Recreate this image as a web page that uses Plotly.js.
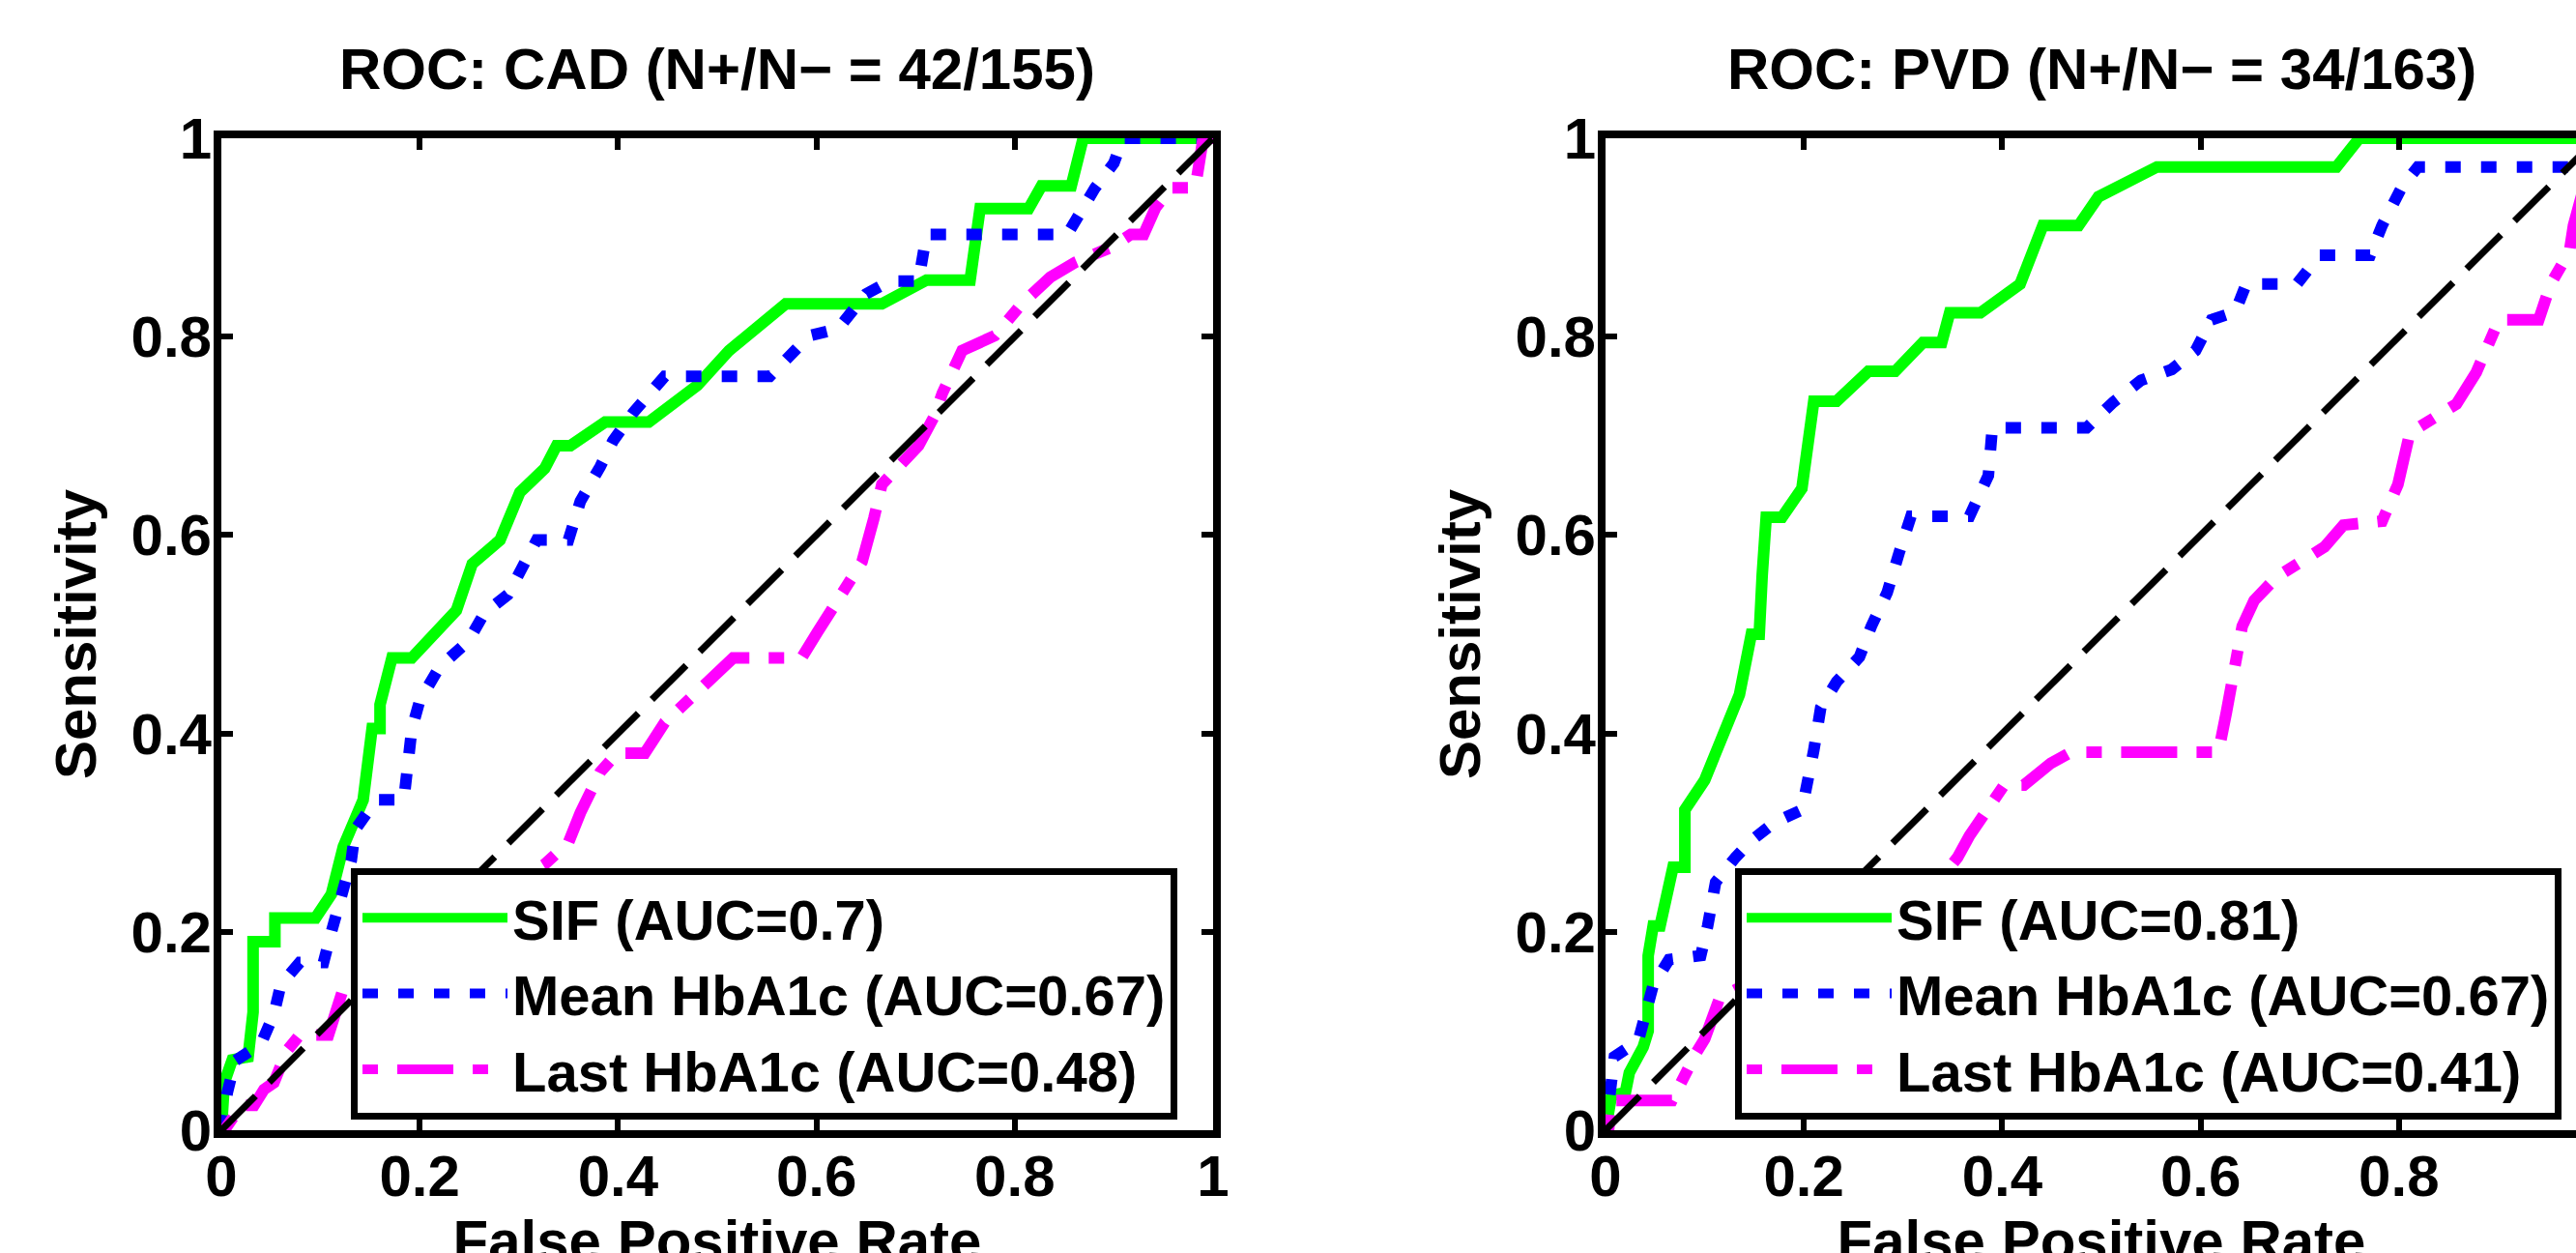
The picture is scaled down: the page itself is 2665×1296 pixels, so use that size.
<!DOCTYPE html>
<html>
<head>
<meta charset="utf-8">
<script src="https://cdn.plot.ly/plotly-3.0.1.min.js"></script>
<style>
html, body { margin: 0; padding: 0; overflow: hidden; background: #ffffff; }
#chart { width: 2760px; height: 1350px; }
</style>
</head>
<body>
<div id="chart"></div>
<script>
// ---------------- DATA ----------------
const seriesNames = ["SIF", "Mean HbA1c", "Last HbA1c"];
const cadAUC = ["0.7", "0.67", "0.48"];
const pvdAUC = ["0.81", "0.67", "0.41"];
const cadCounts = "42/155";
const pvdCounts = "34/163";
const tickVals = [0, 0.2, 0.4, 0.6, 0.8, 1];
const tickText = ["0", "0.2", "0.4", "0.6", "0.8", "1"];
const diagX = [0, 1];
const diagY = [0, 1];

// CAD panel
const cadSifFpr = [0, 0.003, 0.011, 0.027, 0.032, 0.032, 0.054, 0.054, 0.095, 0.111, 0.123, 0.143, 0.152, 0.16, 0.16, 0.172, 0.192, 0.216, 0.237, 0.253, 0.281, 0.301, 0.326, 0.338, 0.352, 0.387, 0.431, 0.48, 0.512, 0.569, 0.666, 0.711, 0.755, 0.765, 0.814, 0.827, 0.857, 0.869, 1];
const cadSifTpr = [0, 0.048, 0.071, 0.074, 0.119, 0.19, 0.19, 0.214, 0.214, 0.238, 0.286, 0.333, 0.405, 0.405, 0.429, 0.476, 0.476, 0.5, 0.524, 0.571, 0.595, 0.643, 0.667, 0.69, 0.69, 0.714, 0.714, 0.751, 0.786, 0.833, 0.833, 0.857, 0.857, 0.929, 0.929, 0.952, 0.952, 1, 1];

const cadMeanFpr = [0, 0.002, 0.006, 0.014, 0.04, 0.053, 0.06, 0.079, 0.103, 0.111, 0.115, 0.131, 0.135, 0.156, 0.184, 0.192, 0.2, 0.22, 0.249, 0.265, 0.289, 0.306, 0.318, 0.35, 0.362, 0.382, 0.395, 0.415, 0.447, 0.553, 0.573, 0.593, 0.622, 0.65, 0.674, 0.703, 0.711, 0.853, 0.881, 0.9, 0.909, 1];
const cadMeanTpr = [0, 0.015, 0.038, 0.07, 0.087, 0.117, 0.147, 0.169, 0.169, 0.2, 0.216, 0.272, 0.303, 0.333, 0.333, 0.404, 0.433, 0.467, 0.493, 0.521, 0.54, 0.573, 0.595, 0.595, 0.634, 0.669, 0.695, 0.723, 0.76, 0.76, 0.782, 0.801, 0.808, 0.843, 0.856, 0.856, 0.903, 0.903, 0.95, 0.975, 1, 1];

const cadLastFpr = [0.003, 0.02, 0.033, 0.043, 0.053, 0.066, 0.079, 0.108, 0.123, 0.301, 0.326, 0.35, 0.362, 0.382, 0.399, 0.427, 0.447, 0.516, 0.585, 0.601, 0.617, 0.634, 0.646, 0.658, 0.666, 0.703, 0.719, 0.727, 0.747, 0.78, 0.808, 0.836, 0.861, 0.897, 0.917, 0.93, 0.942, 0.958, 0.982, 0.99, 1];
const cadLastTpr = [0, 0.025, 0.025, 0.041, 0.048, 0.08, 0.096, 0.096, 0.143, 0.25, 0.268, 0.29, 0.32, 0.361, 0.38, 0.38, 0.411, 0.476, 0.476, 0.502, 0.528, 0.554, 0.573, 0.617, 0.651, 0.69, 0.72, 0.743, 0.786, 0.801, 0.834, 0.86, 0.875, 0.89, 0.903, 0.903, 0.93, 0.95, 0.95, 1, 1];

// PVD panel
const pvdSifFpr = [0, 0.006, 0.02, 0.024, 0.038, 0.043, 0.043, 0.048, 0.055, 0.06, 0.068, 0.08, 0.08, 0.1, 0.115, 0.135, 0.147, 0.155, 0.158, 0.162, 0.178, 0.198, 0.21, 0.233, 0.265, 0.292, 0.32, 0.339, 0.347, 0.378, 0.418, 0.441, 0.477, 0.497, 0.556, 0.737, 0.76, 1];
const pvdSifTpr = [0, 0.035, 0.038, 0.058, 0.084, 0.1, 0.176, 0.206, 0.206, 0.232, 0.265, 0.265, 0.323, 0.353, 0.391, 0.439, 0.5, 0.5, 0.56, 0.618, 0.618, 0.647, 0.735, 0.735, 0.765, 0.765, 0.794, 0.794, 0.824, 0.824, 0.853, 0.912, 0.912, 0.941, 0.971, 0.971, 1, 1];

const pvdMeanFpr = [0, 0.001, 0.004, 0.009, 0.033, 0.048, 0.064, 0.096, 0.103, 0.111, 0.131, 0.147, 0.17, 0.198, 0.21, 0.217, 0.233, 0.256, 0.268, 0.284, 0.296, 0.308, 0.367, 0.386, 0.39, 0.485, 0.512, 0.54, 0.571, 0.595, 0.611, 0.635, 0.646, 0.697, 0.72, 0.771, 0.783, 0.803, 0.819, 1, 1];
const pvdMeanTpr = [0, 0.012, 0.038, 0.074, 0.09, 0.146, 0.172, 0.176, 0.206, 0.25, 0.275, 0.292, 0.31, 0.323, 0.383, 0.426, 0.452, 0.477, 0.508, 0.542, 0.582, 0.619, 0.619, 0.66, 0.708, 0.708, 0.734, 0.756, 0.767, 0.786, 0.817, 0.825, 0.853, 0.853, 0.882, 0.882, 0.912, 0.951, 0.971, 0.971, 1];

const pvdLastFpr = [0.003, 0.006, 0.067, 0.077, 0.092, 0.1, 0.115, 0.335, 0.355, 0.367, 0.386, 0.402, 0.422, 0.449, 0.469, 0.618, 0.626, 0.634, 0.642, 0.654, 0.677, 0.725, 0.744, 0.783, 0.799, 0.811, 0.858, 0.878, 0.886, 0.901, 0.941, 0.953, 0.972, 0.976, 1];
const pvdLastTpr = [0, 0.03, 0.03, 0.051, 0.079, 0.092, 0.133, 0.25, 0.275, 0.297, 0.327, 0.348, 0.348, 0.37, 0.381, 0.381, 0.421, 0.46, 0.508, 0.534, 0.558, 0.588, 0.61, 0.614, 0.651, 0.703, 0.732, 0.764, 0.782, 0.817, 0.817, 0.853, 0.886, 0.912, 1];

// ---------------- STYLE ----------------
const W = 2760, H = 1350;
const FONT = '"Liberation Sans", Arial, Helvetica, sans-serif';
const colors = ["#00ff00", "#0000ff", "#ff00ff"];
const dashes = ["solid", "16px,21px", "16px,20px,58px,20px"];
const LW = 12;

function px(p) { return p / W; }
function py(p) { return 1 - p / H; }

function panelTraces(xa, ya, leg, fprs, tprs, aucs) {
  const out = [];
  for (let i = 0; i < 3; i++) {
    out.push({
      type: "scatter", mode: "lines", x: fprs[i], y: tprs[i],
      xaxis: xa, yaxis: ya, legend: leg,
      name: seriesNames[i] + " (AUC=" + aucs[i] + ")",
      line: { color: colors[i], width: LW, dash: dashes[i] },
      hoverinfo: "skip"
    });
  }
  out.push({
    type: "scatter", mode: "lines", x: diagX, y: diagY, xaxis: xa, yaxis: ya,
    showlegend: false, line: { color: "#000000", width: 7, dash: "50px,20px" }, hoverinfo: "skip"
  });
  return out;
}

const data = [].concat(
  panelTraces("x", "y", "legend", [cadSifFpr, cadMeanFpr, cadLastFpr], [cadSifTpr, cadMeanTpr, cadLastTpr], cadAUC),
  panelTraces("x2", "y2", "legend2", [pvdSifFpr, pvdMeanFpr, pvdLastFpr], [pvdSifTpr, pvdMeanTpr, pvdLastTpr], pvdAUC)
);

const tickFont = { family: FONT, size: 60, color: "#000", weight: "bold" };
function axis(domain, titleText, anchor, standoff, labelShift) {
  return {
    domain: domain, anchor: anchor, range: [0, 1],
    tickmode: "array", tickvals: tickVals, ticktext: tickText,
    ticks: "inside", ticklen: 12, tickwidth: 6, tickcolor: "#000",
    ticklabelstandoff: labelShift,
    showline: true, linewidth: 8, linecolor: "#000", mirror: "ticks",
    showgrid: false, zeroline: false, automargin: false, fixedrange: true,
    tickfont: tickFont,
    title: { text: titleText, font: { family: FONT, size: 60, color: "#000", weight: "bold" }, standoff: standoff }
  };
}

const yDom = [py(1169), py(143)];
const legBase = {
  xanchor: "left", yanchor: "top", bgcolor: "#ffffff", bordercolor: "#000000", borderwidth: 7,
  font: { family: FONT, size: 58, color: "#000", weight: "bold" }, itemwidth: 150, traceorder: "normal"
};

const layout = {
  width: W, height: H,
  margin: { l: 0, r: 0, t: 0, b: 0, pad: 0 },
  paper_bgcolor: "#ffffff", plot_bgcolor: "#ffffff",
  showlegend: true,
  xaxis: axis([px(229), px(1255)], "False Positive Rate", "y", 14, -12),
  yaxis: axis(yDom, "Sensitivity", "x", 20, -10),
  xaxis2: axis([px(1661), px(2687)], "False Positive Rate", "y2", 14, -12),
  yaxis2: axis(yDom, "Sensitivity", "x2", 20, -10),
  legend: Object.assign({}, legBase, { x: px(363), y: py(898) }),
  legend2: Object.assign({}, legBase, { x: px(1795), y: py(898) }),
  annotations: [
    { text: "ROC: CAD (N+/N\u2212 = " + cadCounts + ")", xref: "paper", yref: "paper", x: px(742), y: py(71),
      xanchor: "center", yanchor: "middle", showarrow: false, font: { family: FONT, size: 60, color: "#000", weight: "bold" } },
    { text: "ROC: PVD (N+/N\u2212 = " + pvdCounts + ")", xref: "paper", yref: "paper", x: px(2174), y: py(71),
      xanchor: "center", yanchor: "middle", showarrow: false, font: { family: FONT, size: 60, color: "#000", weight: "bold" } }
  ]
};

Plotly.newPlot("chart", data, layout, { displayModeBar: false, staticPlot: true });
</script>
</body>
</html>
